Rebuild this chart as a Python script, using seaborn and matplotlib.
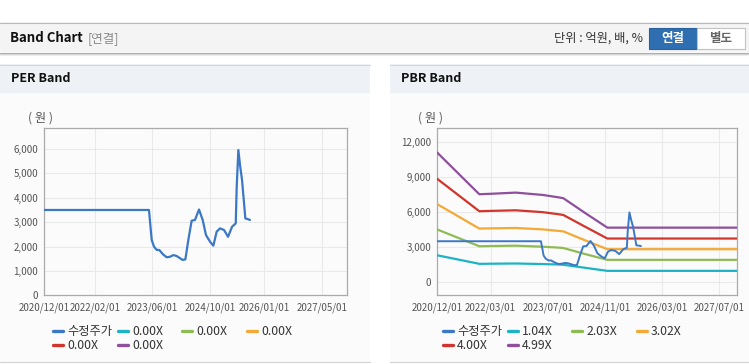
import matplotlib
matplotlib.use("Agg")
import matplotlib.pyplot as plt
from matplotlib.patches import Rectangle
from matplotlib.lines import Line2D
import pandas as pd
import seaborn as sns

# adjusted price (수정주가)
price_dates = ['2020-12-01', '2023-05-03', '2023-05-26', '2023-06-14', '2023-07-07',
               '2023-07-29', '2023-08-27', '2023-09-29', '2023-10-27', '2023-11-25',
               '2023-12-23', '2024-01-20', '2024-02-11', '2024-03-05', '2024-03-30',
               '2024-04-27', '2024-05-25', '2024-06-28', '2024-07-29', '2024-08-26',
               '2024-09-29', '2024-10-27', '2024-11-24', '2024-12-22', '2025-01-25',
               '2025-02-28', '2025-04-03', '2025-05-04', '2025-05-12', '2025-05-26',
               '2025-06-09', '2025-06-26', '2025-07-07', '2025-07-24', '2025-08-19',
               '2025-09-01']
price = [3500, 3500, 2270, 2000, 1860, 1860, 1690, 1560, 1580, 1650,
         1610, 1520, 1450, 1475, 2270, 3060, 3090, 3520, 3090, 2470,
         2200, 2035, 2610, 2745, 2680, 2400, 2815, 2950, 4450, 5960,
         5340, 4730, 4110, 3155, 3115, 3090]

# PBR bands
band_dates = ['2020-12-01', '2021-11-24', '2022-03-01', '2022-10-01', '2023-05-20',
              '2023-10-10', '2023-11-10', '2024-05-15', '2024-11-19', '2027-12-01']
pbr_104 = [2300, 1570, 1580, 1600, 1550, 1510, 1490, 1230, 970, 970]
pbr_203 = [4500, 3070, 3090, 3120, 3030, 2950, 2920, 2400, 1910, 1910]
pbr_302 = [6660, 4580, 4600, 4630, 4510, 4370, 4340, 3570, 2820, 2820]
pbr_400 = [8820, 6060, 6090, 6140, 5980, 5790, 5740, 4730, 3730, 3730]
pbr_499 = [11060, 7510, 7550, 7650, 7450, 7230, 7170, 5900, 4660, 4660]
pbr_bands = [pbr_104, pbr_203, pbr_302, pbr_400, pbr_499]
pbr_labels = ['1.04X', '2.03X', '3.02X', '4.00X', '4.99X']
per_labels = ['0.00X', '0.00X', '0.00X', '0.00X', '0.00X']

per_xticks = ['2020/12/01', '2022/02/01', '2023/06/01', '2024/10/01', '2026/01/01', '2027/05/01']
pbr_xticks = ['2020/12/01', '2022/03/01', '2023/07/01', '2024/11/01', '2026/03/01', '2027/07/01']
per_yticks = [0, 1000, 2000, 3000, 4000, 5000, 6000]
pbr_yticks = [0, 3000, 6000, 9000, 12000]

price_color = '#3b78c6'
band_colors = ['#1db3c5', '#8fbb55', '#f3a935', '#d2352c', '#8e509c']

sns.set_style('white')
plt.rcParams['font.family'] = ['Noto Sans CJK KR', 'DejaVu Sans']

W, H = 749, 364
fig = plt.figure(figsize=(W / 100, H / 100), dpi=100)
fig.patch.set_facecolor('white')


def box(x0, y0, x1, y1, fc, ec='none', lw=0.8, z=-1):
    fig.patches.append(Rectangle((x0 / W, 1 - y1 / H), (x1 - x0) / W, (y1 - y0) / H,
                                 transform=fig.transFigure, facecolor=fc, edgecolor=ec,
                                 lw=lw, zorder=z))


def hline(y, x0, x1, color, lw=0.8):
    fig.add_artist(Line2D([x0 / W, x1 / W], [1 - y / H, 1 - y / H], color=color, lw=lw,
                          transform=fig.transFigure, zorder=-0.5))


def txt(x, y, s, **kw):
    fig.text(x / W, 1 - y / H, s, va='center', **kw)


# header bar
box(0, 22, 749, 52, '#f4f4f4')
hline(22.5, 0, 749, '#b9b9b9')
hline(52.5, 0, 749, '#a9a9a9')
hline(53.5, 0, 749, '#d6d6d6')
hline(54.5, 0, 749, '#ececec')
txt(10, 38.5, 'Band Chart', fontsize=9.5, fontweight='bold', color='#111111')
txt(88, 38.5, '[연결]', fontsize=9, color='#8a8a8a')
txt(643, 38.5, '단위 : 억원, 배, %', fontsize=8.8, color='#333333', ha='right')
box(649, 28, 697, 49, '#2f6eb1', ec='#2a609c', z=1)
txt(673, 38.5, '연결', fontsize=9, fontweight='bold', color='white', ha='center')
box(697, 28, 745, 49, 'white', ec='#c2c2c2', z=1)
txt(721, 38.5, '별도', fontsize=9, fontweight='bold', color='#666666', ha='center')

# panels
for x0, x1, title in [(0, 370, 'PER Band'), (390, 749, 'PBR Band')]:
    box(x0, 64, x1, 93, '#eef1f6')
    box(x0, 93, x1, 362, '#fbfbfb')
    hline(64.5, x0, x1, '#d3d6db')
    hline(362, x0, x1, '#d3d3d3')
    txt(x0 + 11, 79, title, fontsize=9, fontweight='bold', color='#111111')
    txt(x0 + 28, 118, '( 원 )', fontsize=8.8, color='#555555')

ax1 = fig.add_axes([44.3 / W, 1 - 295.3 / H, 303 / W, 167 / H])
ax2 = fig.add_axes([437.3 / W, 1 - 295 / H, 300 / W, 166.7 / H])

df_price = pd.DataFrame({'date': pd.to_datetime(price_dates), 'price': price})

# PER chart: only the price line, bands are all 0.00X
sns.lineplot(data=df_price, x='date', y='price', ax=ax1, color=price_color, lw=1.6, zorder=5)

# PBR chart
for vals, c in zip(pbr_bands, band_colors):
    df_b = pd.DataFrame({'date': pd.to_datetime(band_dates), 'v': vals})
    sns.lineplot(data=df_b, x='date', y='v', ax=ax2, color=c, lw=1.6, zorder=3)
sns.lineplot(data=df_price, x='date', y='price', ax=ax2, color=price_color, lw=1.4, zorder=5)

for ax, xt, yt, ylim in [(ax1, per_xticks, per_yticks, (0, 6850)),
                         (ax2, pbr_xticks, pbr_yticks, (-1090, 13140))]:
    ax.set_zorder(2)
    ax.set_facecolor('none')
    ax.set_xlim(pd.Timestamp('2020-12-01'), pd.Timestamp('2027-12-01'))
    ax.set_ylim(*ylim)
    ax.set_xticks(pd.to_datetime(xt))
    ax.set_xticklabels(xt)
    ax.set_yticks(yt)
    ax.set_yticklabels([f'{v:,}' for v in yt])
    ax.set_xlabel('')
    ax.set_ylabel('')
    ax.grid(True, color='#e9e9e9', lw=0.8)
    ax.set_axisbelow(True)
    for s in ax.spines.values():
        s.set_color('#ababab')
        s.set_linewidth(0.9)
    ax.tick_params(length=2.5, width=0.8, color='#9a9a9a', labelsize=7,
                   labelcolor='#555555', pad=2)
    ax.tick_params(axis='x', pad=3)


def legend_cols(handles, x0, top):
    # each column its own legend so that columns get equal width like the reference
    cols = [[handles[0], handles[4]], [handles[1], handles[5]], [handles[2]], [handles[3]]]
    offs = [0, 65, 129, 194]
    for col, dx in zip(cols, offs):
        fig.legend(handles=col, loc='upper left', bbox_to_anchor=((x0 + dx) / W, 1 - top / H),
                   frameon=False, fontsize=8.8, handlelength=0.85, handletextpad=0.3,
                   labelspacing=0.1, borderpad=0, borderaxespad=0, labelcolor='#333333')


def make_handles(labels):
    hs = [Line2D([], [], color=price_color, lw=2.4, label='수정주가')]
    hs += [Line2D([], [], color=c, lw=2.4, label=l) for c, l in zip(band_colors, labels)]
    return hs


legend_cols(make_handles(per_labels), 53, 325)
legend_cols(make_handles(pbr_labels), 443, 325)

fig.savefig('out.png', dpi=100, facecolor=fig.get_facecolor())
